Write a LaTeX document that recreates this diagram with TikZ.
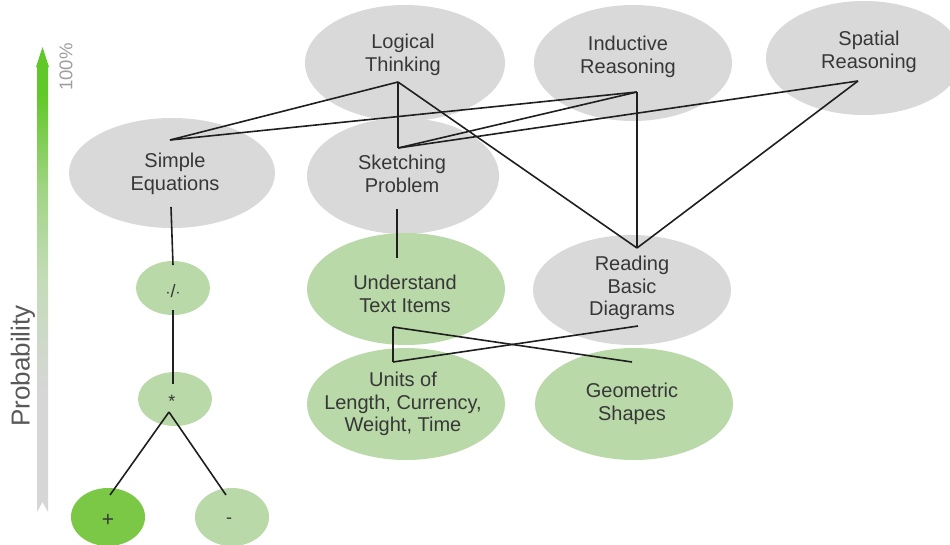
\documentclass[tikz,border=0pt]{standalone}
\usepackage{fontspec}
\setmainfont{Liberation Sans}
\usetikzlibrary{shapes.geometric}

\definecolor{bubblegrey}{RGB}{217,217,217}
\definecolor{bubblegreen}{RGB}{185,217,168}
\definecolor{brightgreen}{RGB}{122,200,70}
\definecolor{labeltext}{RGB}{55,55,55}
\definecolor{axisgreen}{RGB}{96,200,40}
\definecolor{axislight}{RGB}{160,212,130}
\definecolor{axismid}{RGB}{196,220,185}
\definecolor{axisgrey}{RGB}{214,214,214}

% green at the head of the axis, fading to grey towards the tail
\pgfdeclareverticalshading{axisfade}{100bp}{
  color(0bp)=(axisgrey); color(38bp)=(axisgrey); color(50bp)=(axismid);
  color(60bp)=(axislight); color(70bp)=(axisgreen); color(100bp)=(axisgreen)}

\tikzset{
  bubble/.style={ellipse, draw=none, inner sep=0pt,
    minimum width=2*#1, minimum height=112pt},
  greybubble/.style={bubble=#1, fill=bubblegrey},
  greenbubble/.style={bubble=#1, fill=bubblegreen},
  opbubble/.style={ellipse, draw=none, inner sep=0pt,
    minimum width=74pt, minimum height=54pt, fill=bubblegreen},
  caption/.style={align=center, text=labeltext,
    font=\fontsize{20}{22.5}\selectfont, inner sep=0pt},
  opcaption/.style={text=labeltext, font=\fontsize{18}{20}\selectfont, inner sep=0pt},
  link/.style={draw=black!88, line width=1.6pt, line join=miter},
}

\begin{document}
\begin{tikzpicture}[x=1pt,y=-1pt]
\useasboundingbox (0,0) rectangle (950,544);

% ---- probability axis ----
\shade[shading=axisfade]
  (42.5,47) -- (49,67) -- (48,67) -- (48,512) -- (42.5,502) -- (37,512)
  -- (37,67) -- (36,67) -- cycle;
\node[rotate=90, text=black!65, font=\fontsize{26}{28}\selectfont, inner sep=0pt]
  (prob) at (23,366) {Probability};
\node[rotate=90, text=black!38, font=\fontsize{18.5}{20}\selectfont, inner sep=0pt]
  (pct) at (66,67) {100\%};

% ---- bubbles ----
\node[greybubble=100pt, minimum height=116pt] (lt) at (405,63) {};
\node[greybubble=99pt,  minimum height=116pt] (ir) at (633,63) {};
\node[greybubble=98pt,  minimum height=114pt] (sr) at (864,58) {};
\node[greybubble=103pt, minimum height=110pt] (se) at (172,173) {};
\node[greybubble=96pt,  minimum height=116pt] (sp) at (403,176) {};
\node[greenbubble=99pt] (ut) at (406,289) {};
\node[greybubble=99pt, minimum height=110pt] (rb) at (632,290) {};
\node[greenbubble=99pt] (ul) at (406,404) {};
\node[greenbubble=99pt] (gs) at (634,404) {};
\node[opbubble] (div) at (173,288) {};
\node[opbubble] (mul) at (175,399) {};
\node[opbubble, fill=brightgreen, minimum height=58pt] (add) at (108,517) {};
\node[opbubble, minimum height=58pt] (sub) at (232,517) {};

% ---- captions ----
\node[caption] (lt-t) at (403,55) {Logical\\Thinking};
\node[caption] (ir-t) at (628,57) {Inductive\\Reasoning};
\node[caption] (sr-t) at (869,52) {Spatial\\Reasoning};
\node[caption] (se-t) at (175,174) {Simple\\Equations};
\node[caption] (sp-t) at (402,174) {Sketching\\Problem};
\node[caption] (ut-t) at (405,294) {Understand\\Text Items};
\node[caption] (rb-t) at (632,288) {Reading\\Basic\\Diagrams};
\node[caption] (ul-t) at (403,404) {Units of\\Length, Currency,\\Weight, Time};
\node[caption] (gs-t) at (632,404) {Geometric\\Shapes};
\node[opcaption] (div-t) at (173,291) {$\cdot$/$\cdot$};
\node[opcaption] (mul-t) at (172,401) {*};
\node[opcaption, font=\fontsize{21}{22}\selectfont] (add-t) at (108,520) {+};
\node[opcaption] (sub-t) at (229,521) {-};

% ---- connection points inside the bubbles ----
\coordinate (se-top) at (170,140);
\coordinate (se-bot) at (171,207);
\coordinate (lt-pt)  at (398,82);
\coordinate (ir-pt)  at (637,92);
\coordinate (sr-pt)  at (858,81);
\coordinate (sp-top) at (398,148);
\coordinate (sp-bot) at (397,209);
\coordinate (rb-top) at (637,248);
\coordinate (rb-bot) at (638,326);
\coordinate (ut-top) at (397,258);
\coordinate (ut-bot) at (393,327);
\coordinate (ul-top) at (393,362);
\coordinate (gs-top) at (632,362);
\coordinate (div-top) at (173,265);
\coordinate (div-bot) at (173,310);
\coordinate (mul-top) at (173,384);
\coordinate (mul-pt)  at (169,412);
\coordinate (add-top) at (110,495);
\coordinate (sub-top) at (226,495);

% ---- links ----
\draw[link] (se-top) -- (lt-pt);
\draw[link] (se-top) -- (ir-pt);
\draw[link] (lt-pt) -- (sp-top);
\draw[link] (lt-pt) -- (rb-top);
\draw[link] (ir-pt) -- (sp-top);
\draw[link] (sr-pt) -- (sp-top);
\draw[link] (ir-pt) -- (rb-top);
\draw[link] (sr-pt) -- (rb-top);
\draw[link] (sp-bot) -- (ut-top);
\draw[link] (ut-bot) -- (ul-top);
\draw[link] (ut-bot) -- (gs-top);
\draw[link] (ul-top) -- (rb-bot);
\draw[link] (se-bot) -- (div-top);
\draw[link] (div-bot) -- (mul-top);
\draw[link] (mul-pt) -- (add-top);
\draw[link] (mul-pt) -- (sub-top);
\end{tikzpicture}
\end{document}
